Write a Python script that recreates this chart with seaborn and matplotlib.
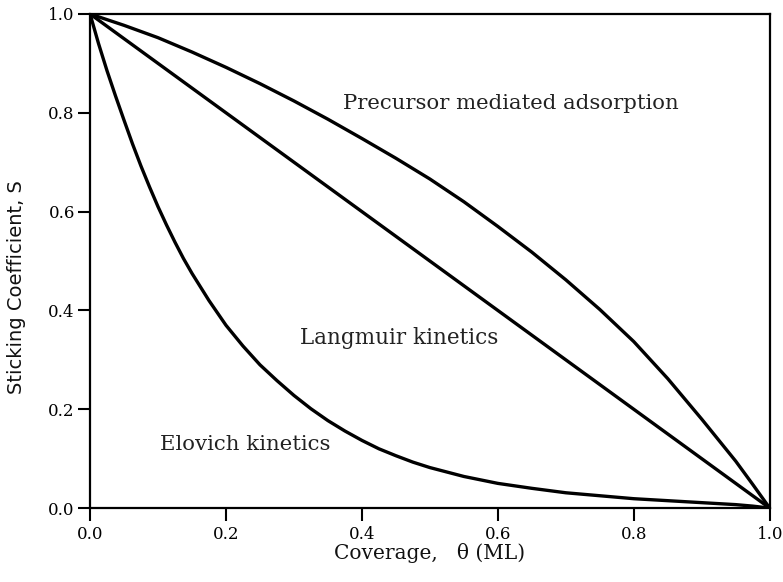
import matplotlib
matplotlib.use("Agg")
import matplotlib.pyplot as plt
import seaborn as sns
import pandas as pd

# Values
theta_prec = [0.0, 0.05, 0.1, 0.15, 0.2, 0.25, 0.3, 0.35, 0.4, 0.45, 0.5, 0.55, 0.6,
              0.65, 0.7, 0.75, 0.8, 0.85, 0.9, 0.95, 0.975, 1.0]
s_prec = [1.0, 0.977, 0.952, 0.923, 0.892, 0.859, 0.824, 0.787, 0.748, 0.708, 0.666, 0.62,
          0.57, 0.518, 0.462, 0.402, 0.337, 0.262, 0.18, 0.095, 0.048, 0.0]

theta_lang = [0.0, 0.2, 0.4, 0.6, 0.8, 1.0]
s_lang = [1.0, 0.8, 0.6, 0.4, 0.2, 0.0]

theta_elov = [0.0, 0.0125, 0.025, 0.0375, 0.05, 0.0625, 0.075, 0.0875, 0.1, 0.1125,
              0.125, 0.1375, 0.15, 0.175, 0.2, 0.225, 0.25, 0.275, 0.3, 0.325, 0.35,
              0.375, 0.4, 0.425, 0.45, 0.475, 0.5, 0.55, 0.6, 0.65, 0.7, 0.75, 0.8,
              0.85, 0.9, 0.95, 0.975, 1.0]
s_elov = [1.0, 0.94, 0.885, 0.834, 0.785, 0.737, 0.692, 0.65, 0.61, 0.573,
          0.538, 0.505, 0.475, 0.42, 0.37, 0.328, 0.29, 0.258, 0.228, 0.201, 0.177,
          0.156, 0.137, 0.12, 0.106, 0.093, 0.082, 0.064, 0.05, 0.04, 0.031, 0.025, 0.019,
          0.015, 0.011, 0.007, 0.004, 0.0]

labels = ["Precursor mediated adsorption", "Langmuir kinetics", "Elovich kinetics"]
x_ticks = [0.0, 0.2, 0.4, 0.6, 0.8, 1.0]
y_ticks = [0.0, 0.2, 0.4, 0.6, 0.8, 1.0]

df = pd.concat([
    pd.DataFrame({"theta": theta_prec, "S": s_prec, "model": labels[0]}),
    pd.DataFrame({"theta": theta_lang, "S": s_lang, "model": labels[1]}),
    pd.DataFrame({"theta": theta_elov, "S": s_elov, "model": labels[2]}),
], ignore_index=True)

sns.set_style("ticks")
plt.rcParams["font.family"] = ["DejaVu Serif", "DejaVu Sans"]

fig = plt.figure(figsize=(7.83, 5.82), dpi=100)
ax = fig.add_axes([0.115, 0.127, 0.868, 0.849])

sns.lineplot(data=df, x="theta", y="S", hue="model", units="model", estimator=None,
             sort=False, palette=["black"] * 3, linewidth=2.4, legend=False, ax=ax)
for ln in ax.lines:
    ln.set_solid_joinstyle("round")
    ln.set_solid_capstyle("round")

ax.set_xlim(0.0, 1.0)
ax.set_ylim(0.0, 1.0)
ax.set_xticks(x_ticks)
ax.set_yticks(y_ticks)
ax.set_xticklabels([f"{v:.1f}" for v in x_ticks])
ax.set_yticklabels([f"{v:.1f}" for v in y_ticks])
ax.tick_params(axis="both", direction="out", length=9, width=1.5, labelsize=12,
               colors="black", pad=2)
ax.tick_params(axis="x", pad=4)
for sp in ax.spines.values():
    sp.set_visible(True)
    sp.set_linewidth(1.6)
    sp.set_color("black")

ax.set_xlabel("Coverage,   \u03b8 (ML)", fontsize=14.5, labelpad=0, color="#111111")
ax.set_ylabel("Sticking Coefficient, S", fontsize=14, family="DejaVu Sans", color="#111111")
ax.yaxis.set_label_coords(-0.094, 0.447)

ax.text(0.372, 0.818, labels[0], fontsize=15.3, va="center", ha="left", color="#222222")
ax.text(0.309, 0.344, labels[1], fontsize=15.5, va="center", ha="left", color="#222222")
ax.text(0.103, 0.128, labels[2], fontsize=15.3, va="center", ha="left", color="#222222")

fig.savefig("out.png", dpi=100)
